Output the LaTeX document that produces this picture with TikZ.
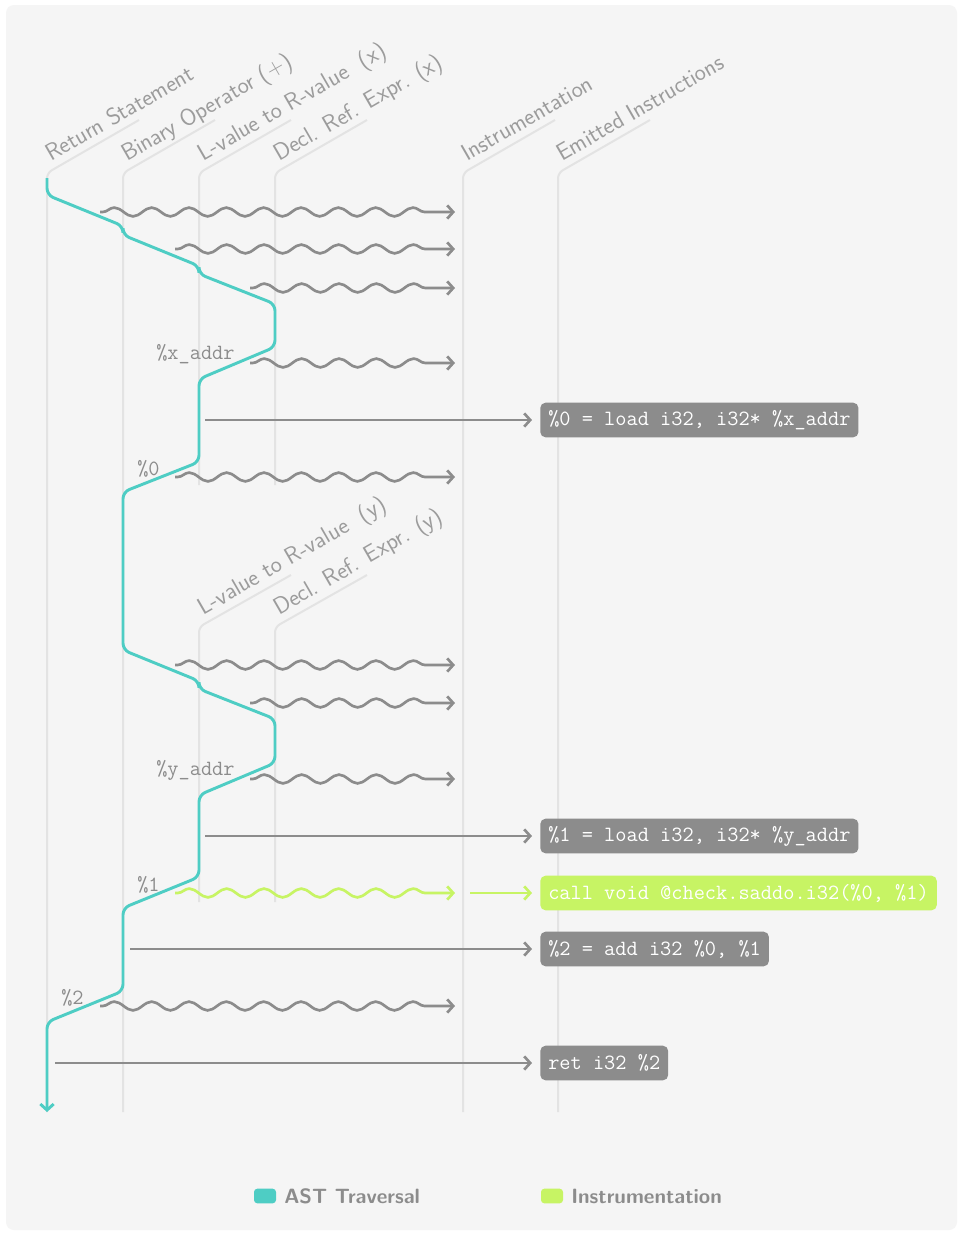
\documentclass[tikz,border=0pt]{standalone}
\usepackage{tikz}
\usetikzlibrary{arrows.meta,decorations.pathmorphing}
\definecolor{astteal}{HTML}{4ECDC4}
\definecolor{instlime}{HTML}{C7F464}
\definecolor{codegray}{HTML}{8C8C8C}
\definecolor{lifegray}{HTML}{E3E3E3}
\definecolor{bggray}{HTML}{F5F5F5}
\definecolor{labelgray}{HTML}{9C9C9C}

\begin{document}
\begin{tikzpicture}
			[x=0.75pt,y=-0.75pt,
			>={Straight Barb[length=4.5pt,width=10pt]},
			lifeline/.style={draw=lifegray,line width=1.5pt,rounded corners=4pt},
			headlabel/.style={anchor=base west,rotate=30,inner sep=0pt,text=labelgray,font=\sffamily\fontsize{17.8}{20}\selectfont},
			astpath/.style={draw=astteal,line width=2.2pt,rounded corners=5pt,->},
			wave/.style={draw=codegray,line width=2pt,->,decorate,decoration={snake,segment length=28pt,amplitude=3.3pt,pre length=2pt,post length=12pt}},
			emit/.style={draw=codegray,line width=2pt,->,shorten >=6pt},
			instr/.style={anchor=west,fill=codegray,text=white,rounded corners=4pt,inner xsep=6pt,minimum height=26pt,font=\ttfamily\fontsize{16.3}{18}\selectfont},
			varlabel/.style={anchor=base west,inner sep=0pt,text=codegray,font=\ttfamily\fontsize{16.3}{18}\selectfont},
			legbox/.style={minimum width=16.5pt,minimum height=11pt,inner sep=0pt,rounded corners=2.5pt},
			legtext/.style={anchor=west,inner sep=0pt,text=codegray,font=\sffamily\bfseries\fontsize{15.5}{18}\selectfont}]
			
			% background
			\useasboundingbox (0,0) rectangle (961,1233);
			\fill[white] (0,0) rectangle (961,1233);
			\fill[bggray,rounded corners=6pt] (6,5) rectangle (957,1230);
			
			% lifelines and their headers
			\foreach \x/\txt/\bot in {47/{Return Statement}/1112,123/{Binary Operator (+)}/1112,199/{L-value to R-value\ \ (x)}/485,275/{Decl. Ref. Expr. (x)}/485,463/{Instrumentation}/1112,558/{Emitted Instructions}/1112}
			{\draw[lifeline] (\x+92,120) -- (\x,173) -- (\x,\bot);
			\node[headlabel] (h\x) at (\x+4,162) {\txt};}
			
			\foreach \x/\txt in {199/{L-value to R-value\ \ (y)},275/{Decl. Ref. Expr. (y)}}
			{\draw[lifeline] (\x+92,575) -- (\x,627) -- (\x,902);
			\node[headlabel] (k\x) at (\x+4,616) {\txt};}
			
			% AST traversal
			\draw[astpath] (47,178) -- (47,195) -- (123,226) -- (123,235) -- (199,266) -- (199,274) -- (275,304) -- (275,347)
			-- (199,379) -- (199,462) -- (123,492) -- (123,650) -- (199,681) -- (199,689) -- (275,719) -- (275,763)
			-- (199,795) -- (199,877) -- (123,908) -- (123,991) -- (47,1022) -- (47,1112);
			
			\node[varlabel] (vx) at (156,359) {\%x\_addr};
			\node[varlabel] (v0) at (137,475) {\%0};
			\node[varlabel] (vy) at (156,775) {\%y\_addr};
			\node[varlabel] (v1) at (137,891) {\%1};
			\node[varlabel] (v2) at (61,1004) {\%2};
			
			% visits that emit nothing
			\foreach \n/\sx/\y in {1/100/212,2/175/249,3/250/288,4/250/363,5/175/477,6/175/665,7/250/703,8/250/779,9/100/1006}
			{\coordinate (ws\n) at (\sx,\y);
			\coordinate (we\n) at (455,\y);
			\draw[wave] (ws\n) -- (we\n);}
			
			% emitted instructions
			\node[instr] (ld0) at (540,420) {\%0 = load i32, i32* \%x\_addr};
			\node[instr] (ld1) at (540,836) {\%1 = load i32, i32* \%y\_addr};
			\node[instr,fill=instlime] (chk) at (540,893) {call void @check.saddo.i32(\%0, \%1)};
			\node[instr] (add) at (540,949) {\%2 = add i32 \%0, \%1};
			\node[instr] (ret) at (540,1063) {ret i32 \%2};
			
			\coordinate (e0) at (205,420);
			\coordinate (e1) at (205,836);
			\coordinate (e2) at (130,949);
			\coordinate (e3) at (55,1063);
			\foreach \a/\b in {e0/ld0,e1/ld1,e2/add,e3/ret}
			\draw[emit] (\a) -- (\b);
			
			% instrumentation
			\coordinate (is) at (175,893);
			\coordinate (ie) at (455,893);
			\coordinate (ic) at (470,893);
			\draw[wave,draw=instlime] (is) -- (ie);
			\draw[emit,draw=instlime] (ic) -- (chk);
			
			% legend
			\node[legbox,fill=astteal] (lg1) at (265,1196) {};
			\node[legtext] (lt1) at (284,1196) {AST Traversal};
			\node[legbox,fill=instlime] (lg2) at (552,1196) {};
			\node[legtext] (lt2) at (571,1196) {Instrumentation};
			\end{tikzpicture}
\end{document}
